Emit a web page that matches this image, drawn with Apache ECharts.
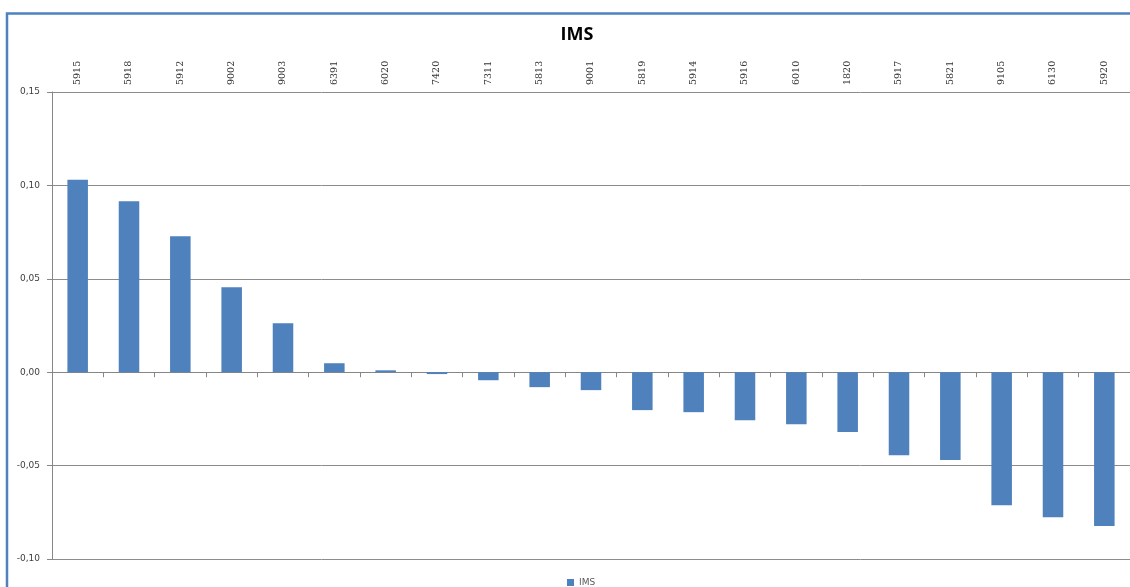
<!DOCTYPE html>
<html>
<head>
<meta charset="utf-8">
<script src="https://cdn.jsdelivr.net/npm/echarts@6/dist/echarts.min.js"></script>
<style>
html,body{margin:0;padding:0;background:#fff;}
#chart{width:1130px;height:587px;}
</style>
</head>
<body>
<div id="chart"></div>
<script>
const categories = ['5915','5918','5912','9002','9003','6391','6020','7420','7311','5813','9001','5819','5914','5916','6010','1820','5917','5821','9105','6130','5920'];
const imsValues = [0.103,0.0915,0.0728,0.0455,0.0262,0.0048,0.001,-0.001,-0.0043,-0.008,-0.0096,-0.0203,-0.0214,-0.0257,-0.0278,-0.032,-0.0444,-0.047,-0.0712,-0.0776,-0.0824];
const seriesName = 'IMS';
const titleText = 'IMS';

const chart = echarts.init(document.getElementById('chart'));
chart.setOption({
  animation: false,
  backgroundColor: '#ffffff',
  title: {
    text: titleText,
    left: 572, top: 21, textAlign: 'center',
    textStyle: {fontFamily: 'Open Sans', fontWeight: 'bold', fontSize: 18, color: '#000'}
  },
  legend: {
    data: [seriesName],
    top: 573, left: 562,
    itemWidth: 7, itemHeight: 7, itemGap: 3,
    textStyle: {fontFamily: 'DejaVu Sans', fontSize: 9, color: '#595959'},
    icon: 'rect',
    itemStyle: {borderWidth: 0}
  },
  graphic: [{
    type: 'polyline',
    shape: {points: [[7, 600], [7, 13.5], [1140, 13.5]]},
    style: {stroke: '#4F81BD', lineWidth: 2.5, fill: null},
    z: 100
  }],
  grid: {left: 52, right: 0, top: 92, bottom: 28, containLabel: false},
  xAxis: [{
    type: 'category',
    data: categories,
    position: 'bottom',
    axisLine: {onZero: true, lineStyle: {color: '#868686', width: 1}},
    axisTick: {show: true, length: 5, lineStyle: {color: '#868686'}},
    axisLabel: {show: false},
    splitLine: {show: false}
  }, {
    type: 'category',
    data: categories,
    position: 'top',
    axisLine: {show: false},
    axisTick: {show: false},
    axisLabel: {show: true, rotate: -90, margin: 7, fontFamily: 'DejaVu Serif', fontSize: 9.5, color: '#333'},
    splitLine: {show: false}
  }],
  yAxis: {
    type: 'value',
    min: -0.1, max: 0.15, interval: 0.05,
    axisLine: {show: true, lineStyle: {color: '#868686'}},
    axisTick: {show: true, length: 5, lineStyle: {color: '#868686'}},
    axisLabel: {
      margin: 12, fontFamily: 'DejaVu Sans', fontSize: 9, color: '#404040',
      formatter: v => v.toFixed(2).replace('.', ',')
    },
    splitLine: {show: true, lineStyle: {color: '#8C8C8C', width: 1}}
  },
  series: [{
    name: seriesName,
    type: 'bar',
    xAxisIndex: 0,
    data: imsValues,
    barWidth: '40%',
    itemStyle: {color: '#4F81BD'}
  }]
});
</script>
</body>
</html>
